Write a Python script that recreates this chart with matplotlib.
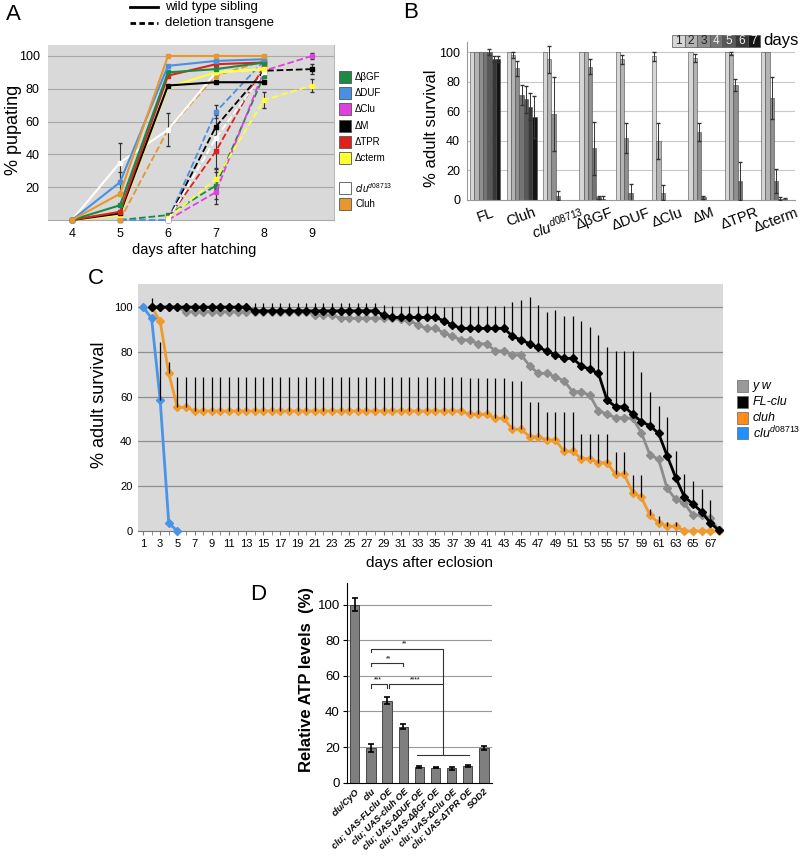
import numpy as np
import matplotlib
matplotlib.use('Agg')
import matplotlib.pyplot as plt
from matplotlib.patches import Rectangle
from matplotlib.lines import Line2D

plt.rcParams['font.family'] = ['Liberation Sans', 'DejaVu Sans']
plt.rcParams['mathtext.fontset'] = 'custom'
plt.rcParams['mathtext.rm'] = 'Liberation Sans'
plt.rcParams['mathtext.it'] = 'Liberation Sans:italic'
plt.rcParams['mathtext.bf'] = 'Liberation Sans:bold'

nan = np.nan
# ---------------- Panel A data ----------------
days_wt = [4, 5, 6, 7, 8]
days_del = [4, 5, 6, 7, 8, 9]
wt_bgf = [0, 9, 90, 92, 96]
wt_duf = [0, 23, 94, 97, 98]
wt_m = [0, 4, 82, 84, 84]
wt_tpr = [0, 5, 88, 95, 96]
wt_cterm = [0, 3, 81, 90, 92]
wt_clu = [0, 35, 55, 90, 92]
wt_cluh = [0, 16, 100, 100, 100]
del_bgf = [nan, 0, 3, 21, 88, nan]
del_duf = [nan, 0, 0, 66, 97, nan]
del_clu = [nan, nan, 0, 17, 91, 100]
del_m = [nan, nan, 0, 57, 91, 92]
del_tpr = [nan, nan, 1, 42, 94, nan]
del_cterm = [nan, nan, 1, 25, 73, 82]
del_clumut = [nan, nan, 0, 50, 90, nan]
del_cluh = [nan, 0, 55, 88, 97, nan]
err_del_bgf = [0, 0, 0, 8, 0, 0]
err_del_duf = [0, 0, 0, 4, 0, 0]
err_del_clu = [0, 0, 0, 7, 0, 2]
err_del_m = [0, 0, 2, 7, 3, 3]
err_del_tpr = [0, 0, 0, 10, 0, 0]
err_del_cterm = [0, 0, 0, 6, 5, 4]
err_del_cluh = [0, 0, 10, 0, 0, 0]
err_wt_clu = [0, 12, 0, 0, 0]
err_wt_duf = [0, 6, 0, 0, 0]

# ---------------- Panel B data ----------------
b_groups = ['FL', 'Cluh', r'$clu^{d08713}$', 'ΔβGF', 'ΔDUF', 'ΔClu', 'ΔM', 'ΔTPR', 'Δcterm']
b_days = ['1', '2', '3', '4', '5', '6', '7']
surv_FL = [100, 100, 100, 100, 100, 95, 95]
surv_Cluh = [100, 98, 89, 71, 68, 63, 56]
surv_clu = [100, 95, 58, 3, nan, nan, nan]
surv_bGF = [100, 100, 90, 35, 2, 0.5, nan]
surv_DUF = [100, 95, 42, 5, nan, nan, nan]
surv_Clu = [97, 40, 5, nan, nan, nan, nan]
surv_M = [100, 96, 46, 2, nan, nan, nan]
surv_TPR = [100, 99, 78, 13, nan, nan, nan]
surv_cterm = [100, 100, 69, 13, 1, 0.5, nan]
e_FL = [0, 0, 0, 0, 2, 2, 2]
e_Cluh = [0, 2, 5, 7, 9, 9, 14]
e_clu = [0, 9, 25, 3, 0, 0, 0]
e_bGF = [0, 0, 5, 18, 1, 2, 0]
e_DUF = [0, 3, 10, 6, 0, 0, 0]
e_Clu = [3, 12, 5, 0, 0, 0, 0]
e_M = [0, 3, 6, 1, 0, 0, 0]
e_TPR = [0, 1, 4, 13, 0, 0, 0]
e_cterm = [0, 0, 14, 8, 1, 1, 0]

# ---------------- Panel C data ----------------
c_days = list(range(1, 69))
yw = [nan, 100, 100, 100, 100,
      98, 98, 98, 98, 98, 98, 98, 98, 98, 98, 98, 98, 98, 98, 98,
      96.5, 96.5, 96.5,
      95, 95, 95, 95, 95, 95, 95,
      94.5, 94, 92, 90.5, 90.5, 88.5, 87, 85.3, 85.3, 83.6, 83.6, 80.4, 80.4,
      78.7, 78.7, 73.7, 70.4, 70.4, 68.8, 67.1, 62.2, 62.2, 60.6, 53.7, 52.2,
      50.6, 50.6, 50.3, 43.9, 33.9, 32.1, 19, 14.1, 12.4, 7.1, 7.1, 5.7, 0.4]
flclu = [nan, 100, 100, 100, 100, 100, 100, 100, 100, 100, 100, 100, 100,
         98.3, 98.3, 98.3, 98.3, 98.3, 98.3, 98.3, 98.3, 98.3, 98.3, 98.3, 98.3, 98.3, 98.3, 98.3,
         96.5, 95.4, 95.4, 95.4, 95.4, 95.4, 95.4, 93.9, 92,
         90.5, 90.5, 90.5, 90.5, 90.5, 90.5,
         87, 85.3, 83.6, 82, 80.4, 78.7, 77.1, 77.1, 73.8, 72.2, 70.4, 58.5, 55.5,
         55.5, 52.2, 48.8, 47, 43.6, 33.6, 23.8, 15.3, 12.1, 8.6, 3.7, 0.4]
cluh = [nan, 100, 93.7, 70.4, 55.2, 55.2,
        53.6, 53.6, 53.6, 53.6, 53.6, 53.6, 53.6, 53.6, 53.6, 53.6, 53.6, 53.6, 53.6, 53.6, 53.6, 53.6,
        53.6, 53.6, 53.6, 53.6, 53.6, 53.6, 53.6, 53.6, 53.6, 53.6, 53.6, 53.6, 53.6, 53.6, 53.6, 53.6,
        52.1, 52.1, 52.1, 50.3, 50.3,
        45.4, 45.4, 42.1, 42.1, 40.6, 40.6, 35.6, 35.6, 32.3, 32.3, 30.5, 30.5, 25.3, 25.3,
        17.1, 15, 7.1, 3.7, 2.2, 2.2, 0, 0, 0, 0, 0]
clumut = [100, 95, 58.5, 3.5, 0] + [nan] * 63
flclu_err = [0, 0, 0, 0, 0, 0, 0, 0, 0, 0, 0, 0, 0,
             3.5, 3.5, 3.5, 3.5, 3.5, 3.5, 3.5, 3.5, 3.5, 3.5, 3.5, 3.5, 3.5, 3.5, 3.5,
             4.5, 5, 5, 5, 5, 5, 5, 6, 8, 10, 10, 10, 10, 10, 10,
             15.4, 18, 21, 19, 17.5, 20, 19, 19, 20, 18.7, 17, 23.5, 25, 25, 28, 22, 15, 12,
             17.5, 12, 10, 10.4, 10, 10, 0]
cluh_err = [0, 4, 0, 5, 13.4, 13.4,
            15, 15, 15, 15, 15, 15, 15, 15, 15, 15, 15, 15, 15, 15, 15, 15,
            15, 15, 15, 15, 15, 15, 15, 15, 15, 15, 15, 15, 15, 15, 15, 15,
            16.4, 16.4, 16.4, 18, 18,
            21.6, 21.6, 15.7, 15.7, 12.7, 12.7, 17.4, 17.4, 11, 11, 12.8, 12.8, 10, 10,
            8, 10, 2.7, 3, 2, 2, 0, 0, 0, 0, 0]
clumut_err = [0, 0, 26, 0, 0] + [0] * 63

# ---------------- Panel D data ----------------
d_labels = ['clu/CyO', 'clu', 'clu; UAS-FLclu OE', 'clu; UAS-cluh OE', 'clu; UAS-ΔDUF OE',
            'clu; UAS-ΔβGF OE', 'clu; UAS-ΔClu OE', 'clu; UAS-ΔTPR OE', 'SOD2']
atp = [100, 19.5, 46, 31.5, 9, 8.5, 8, 9.5, 19.5]
atp_err = [3.5, 2, 2, 1.5, 0.5, 0.4, 0.6, 0.5, 1]

W, H = 800, 857
fig = plt.figure(figsize=(8, 8.57), dpi=100)


def add_ax(l, t, r, b):
    return fig.add_axes([l / W, 1 - b / H, (r - l) / W, (b - t) / H])


def fx(x):
    return x / W


def fy(y):
    return 1 - y / H


def frect(x, y, w, h, **kw):
    fig.add_artist(Rectangle((fx(x), fy(y + h)), w / W, h / H, transform=fig.transFigure, **kw))


# ================= Panel A =================
axA = add_ax(48, 45, 334, 220)
axA.set_facecolor('#d9d9d9')
axA.set_xlim(3.5, 9.46)
axA.set_ylim(0, 106.7)
for g in [20, 40, 60, 80, 100]:
    axA.axhline(g, color='#a8a8a8', lw=0.8, zorder=0)
for s in ['top', 'left']:
    axA.spines[s].set_visible(False)
axA.spines['right'].set_color('#bbbbbb')
axA.spines['bottom'].set_color('#aaaaaa')
axA.set_xticks([4, 5, 6, 7, 8, 9])
axA.set_yticks([20, 40, 60, 80, 100])
axA.tick_params(axis='both', length=0, labelsize=9, pad=6)

cG, cB, cMg, cK, cR, cY, cW, cO = '#1a8a45', '#4a90e2', '#e040e0', '#000000', '#e0201a', '#ffff33', '#ffffff', '#e8962e'

dels = [(del_bgf, err_del_bgf, cG), (del_duf, err_del_duf, cB), (del_clu, err_del_clu, cMg),
        (del_m, err_del_m, cK), (del_tpr, err_del_tpr, cR), (del_cterm, err_del_cterm, cY),
        (del_clumut, [0] * 6, cW), (del_cluh, err_del_cluh, cO)]
for vals, errs, c in dels:
    axA.errorbar(days_del, vals, yerr=errs, fmt='none', ecolor='#333333', elinewidth=0.8, capsize=1.5, zorder=2)
    axA.plot(days_del, vals, '--', color=c, lw=1.3, marker='s', ms=3.5, clip_on=False, zorder=3)
wts = [(wt_clu, err_wt_clu, cW), (wt_cterm, [0] * 5, cY), (wt_m, [0] * 5, cK), (wt_tpr, [0] * 5, cR),
       (wt_bgf, [0] * 5, cG), (wt_duf, err_wt_duf, cB), (wt_cluh, [0] * 5, cO)]
for vals, errs, c in wts:
    axA.errorbar(days_wt, vals, yerr=errs, fmt='none', ecolor='#333333', elinewidth=0.8, capsize=1.5, zorder=2)
    axA.plot(days_wt, vals, '-', color=c, lw=1.5, marker='s', ms=3.5, clip_on=False, zorder=4)

fig.text(fx(14), fy(130), '% pupating', rotation=90, ha='center', va='center', fontsize=13)
fig.text(fx(194), fy(250), 'days after hatching', ha='center', va='center', fontsize=10.5)
fig.text(fx(6), fy(15), 'A', fontsize=16, ha='left', va='center')
# top legend
fig.add_artist(Line2D([fx(130), fx(158)], [fy(7), fy(7)], color='k', lw=2, transform=fig.transFigure))
fig.add_artist(Line2D([fx(130), fx(158)], [fy(23), fy(23)], color='k', lw=2, ls=(0, (2, 1.2)), transform=fig.transFigure))
fig.text(fx(165), fy(7), 'wild type sibling', fontsize=9.5, va='center')
fig.text(fx(165), fy(23), 'deletion transgene', fontsize=9.5, va='center')
# right legend
legA = [('ΔβGF', cG, 77), ('ΔDUF', cB, 93), ('ΔClu', cMg, 109), ('ΔM', cK, 126), ('ΔTPR', cR, 142),
        ('Δcterm', cY, 158), (r'$clu^{d08713}$', cW, 188), ('Cluh', cO, 204)]
for lab, c, yc in legA:
    frect(339, yc - 6, 12, 12, facecolor=c, edgecolor='#555555', lw=0.6)
    fig.text(fx(355), fy(yc), lab, fontsize=7, va='center')

# ================= Panel B =================
axB = add_ax(467, 42, 795, 200)
axB.set_xlim(-0.5, 8.52)
axB.set_ylim(0, 106.8)
for g in [20, 40, 60, 80, 100]:
    axB.axhline(g, color='#c8c8c8', lw=0.8, zorder=0)
for s in ['top', 'right']:
    axB.spines[s].set_visible(False)
axB.spines['left'].set_color('#999999')
axB.spines['bottom'].set_color('#999999')
day_cols = ['#d6d6d6', '#b3b3b3', '#8f8f8f', '#747474', '#585858', '#383838', '#141414']
survB = [surv_FL, surv_Cluh, surv_clu, surv_bGF, surv_DUF, surv_Clu, surv_M, surv_TPR, surv_cterm]
errB = [e_FL, e_Cluh, e_clu, e_bGF, e_DUF, e_Clu, e_M, e_TPR, e_cterm]
bw = 0.118
for i in range(9):
    for j in range(7):
        v = survB[i][j]
        if np.isnan(v):
            continue
        x = i + (j - 3) * bw
        axB.bar(x, v, bw, color=day_cols[j], edgecolor='#4a4a4a', lw=0.4, zorder=2)
        if errB[i][j] > 0:
            axB.errorbar(x, v, yerr=errB[i][j], fmt='none', ecolor='#333333', elinewidth=0.7, capsize=1.2, zorder=3)
axB.set_xticks(range(9))
axB.set_xticklabels(b_groups, rotation=20, fontsize=10.5)
axB.set_yticks([0, 20, 40, 60, 80, 100])
axB.tick_params(axis='x', length=0, pad=4)
axB.tick_params(axis='y', length=0, labelsize=9, pad=5)
fig.text(fx(432), fy(128), '% adult survival', rotation=90, ha='center', va='center', fontsize=12)
fig.text(fx(403), fy(12), 'B', fontsize=16, ha='left', va='center')
for j in range(7):
    x0 = 672 + j * 12.6
    frect(x0, 35, 12.6, 12, facecolor=day_cols[j], edgecolor='#555555', lw=0.5)
    fig.text(fx(x0 + 6.3), fy(41), b_days[j], fontsize=8.5, ha='center', va='center',
             color='#222222' if j < 3 else '#eeeeee')
fig.text(fx(763), fy(41), 'days', fontsize=12, va='center')

# ================= Panel C =================
axC = add_ax(138, 284, 723, 531)
axC.set_facecolor('#d9d9d9')
axC.set_xlim(0.42, 68.5)
axC.set_ylim(0, 110.3)
for g in [20, 40, 60, 80, 100]:
    axC.axhline(g, color='#8f8f8f', lw=0.9, zorder=0)
for s in ['top', 'right', 'left']:
    axC.spines[s].set_visible(False)
axC.spines['bottom'].set_color('#777777')
cYW, cFL, cCH, cCM = '#8c8c8c', '#000000', '#ef9a2c', '#4a94e8'
axC.plot(c_days, yw, '-', color=cYW, lw=2, marker='D', ms=4, clip_on=False, zorder=3)
axC.plot(c_days, flclu, '-', color=cFL, lw=2, marker='D', ms=4, clip_on=False, zorder=4)
axC.plot(c_days, cluh, '-', color=cCH, lw=2, marker='D', ms=4, clip_on=False, zorder=3)
axC.plot(c_days, clumut, '-', color=cCM, lw=2, marker='D', ms=4, clip_on=False, zorder=3)
for vals, errs in [(flclu, flclu_err), (cluh, cluh_err), (clumut, clumut_err)]:
    for d, v, e in zip(c_days, vals, errs):
        if e > 0 and not np.isnan(v):
            axC.vlines(d, v, v + e, color='k', lw=0.9, zorder=5)
axC.set_xticks(list(range(1, 68, 2)))
axC.set_xticks(c_days, minor=True)
axC.set_yticks([0, 20, 40, 60, 80, 100])
axC.tick_params(axis='x', which='both', length=3, color='#777777', labelsize=8, pad=3)
axC.tick_params(axis='y', length=0, labelsize=8, pad=4)
fig.text(fx(100), fy(405), '% adult survival', rotation=90, ha='center', va='center', fontsize=13)
fig.text(fx(430), fy(563), 'days after eclosion', ha='center', va='center', fontsize=11)
fig.text(fx(88), fy(278), 'C', fontsize=16, ha='left', va='center')
legC = [('y w', '#999999', 386), ('FL-clu', '#000000', 402), ('cluh', '#ff8c1a', 418), (r'$clu^{d08713}$', '#1e90ff', 433)]
for lab, c, yc in legC:
    frect(737, yc - 6, 11, 12, facecolor=c, edgecolor='#666666', lw=0.5)
    if lab.startswith('$'):
        fig.text(fx(753), fy(yc), lab, fontsize=9, va='center')
    else:
        fig.text(fx(753), fy(yc), lab, fontsize=9, va='center', style='italic')

# ================= Panel D =================
axD = add_ax(346.7, 583.3, 491.7, 782.7)
axD.set_xlim(-0.5, 8.48)
axD.set_ylim(0, 112)
for g in [20, 40, 60, 80, 100]:
    axD.axhline(g, color='#999999', lw=0.8, zorder=0)
for s in ['top', 'right']:
    axD.spines[s].set_visible(False)
axD.bar(range(9), atp, 0.58, yerr=atp_err, color='#7f7f7f', edgecolor='#333333', lw=0.6, zorder=2,
        capsize=2, error_kw=dict(elinewidth=1.2, capthick=1.2, ecolor='k'))
axD.set_xticks(range(9))
axD.set_xticklabels(d_labels, rotation=45, ha='right', rotation_mode='anchor', fontsize=6.6,
                    fontweight='bold', fontstyle='italic')
axD.set_yticks([0, 20, 40, 60, 80, 100])
axD.tick_params(axis='x', length=0, pad=3)
axD.tick_params(axis='y', length=3, labelsize=9.5, pad=2)
bk = dict(color='#333333', lw=0.8, clip_on=False, zorder=4)
axD.plot([1, 1, 5.45, 5.45], [73.2, 75.2, 75.2, 15.6], **bk)
axD.plot([1, 1, 3, 3], [65.3, 67.2, 67.2, 65.3], **bk)
axD.plot([1, 1, 2, 2], [53.3, 55.4, 55.4, 53.3], **bk)
axD.plot([2.15, 2.15, 5.45], [53.3, 55.4, 55.4], **bk)
axD.plot([3.87, 7.09], [15.6, 15.6], **bk)
ast = dict(fontsize=5, ha='center', va='center')
axD.text(3.1, 78.1, '**', **ast)
axD.text(2.08, 69.5, '**', **ast)
axD.text(1.46, 57.8, '***', **ast)
axD.text(3.73, 57.8, '****', **ast)
fig.text(fx(307), fy(679), 'Relative ATP levels  (%)', rotation=90, ha='center', va='center',
         fontsize=12, fontweight='bold')
fig.text(fx(250), fy(594), 'D', fontsize=16, ha='left', va='center')

fig.savefig('out.png', dpi=100)
